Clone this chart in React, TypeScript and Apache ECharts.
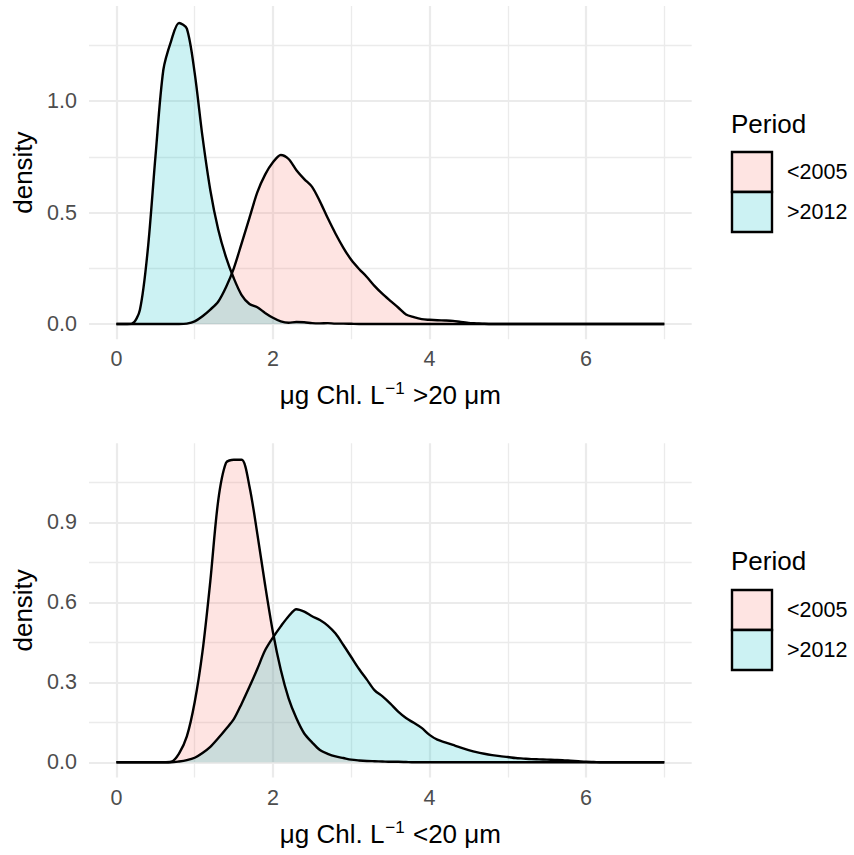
import { useEffect, useRef } from "react";
import * as echarts from "echarts";

// x grid (µg Chl. L-1)
const xs = [
  0.0, 0.1, 0.2, 0.3, 0.4, 0.5, 0.6, 0.7, 0.8, 0.9,
  1.0, 1.1, 1.2, 1.3, 1.4, 1.5, 1.6, 1.7, 1.8, 1.9,
  2.0, 2.1, 2.2, 2.3, 2.4, 2.5, 2.6, 2.7, 2.8, 2.9,
  3.0, 3.1, 3.2, 3.3, 3.4, 3.5, 3.6, 3.7, 3.8, 3.9,
  4.0, 4.1, 4.2, 4.3, 4.4, 4.5, 4.6, 4.7, 4.8, 4.9,
  5.0, 5.1, 5.2, 5.3, 5.4, 5.5, 5.6, 5.7, 5.8, 5.9,
  6.0, 6.1, 6.2, 6.6, 7.0,
];

// >20 µm panel
const largeEarly = [
  0, 0, 0, 0, 0, 0, 0, 0, 0, 0.002,
  0.012, 0.035, 0.065, 0.1, 0.165, 0.25, 0.362, 0.476, 0.59, 0.67,
  0.725, 0.758, 0.74, 0.69, 0.65, 0.615, 0.55, 0.475, 0.405, 0.342,
  0.288, 0.247, 0.211, 0.17, 0.135, 0.104, 0.074, 0.043, 0.031, 0.022,
  0.019, 0.017, 0.016, 0.014, 0.009, 0.005, 0.003, 0.001, 0, 0,
  0, 0, 0, 0, 0, 0, 0, 0, 0, 0,
  0, 0, 0, 0, 0,
];
const largeLate = [
  0, 0, 0.002, 0.063, 0.33, 0.755, 1.14, 1.27, 1.35, 1.325,
  1.126, 0.84, 0.6, 0.425, 0.3, 0.205, 0.13, 0.09, 0.075, 0.05,
  0.028, 0.012, 0.006, 0.009, 0.008, 0.004, 0.003, 0.004, 0.002, 0.002,
  0.001, 0, 0, 0, 0, 0, 0, 0, 0, 0,
  0, 0, 0, 0, 0, 0, 0, 0, 0, 0,
  0, 0, 0, 0, 0, 0, 0, 0, 0, 0,
  0, 0, 0, 0, 0,
];

// <20 µm panel
const smallEarly = [
  0, 0, 0, 0, 0, 0, 0, 0.002, 0.033, 0.097,
  0.225, 0.415, 0.68, 0.98, 1.123, 1.135, 1.135, 1.035, 0.858, 0.665,
  0.488, 0.347, 0.24, 0.165, 0.108, 0.075, 0.046, 0.032, 0.022, 0.016,
  0.01, 0.007, 0.005, 0.004, 0.003, 0.002, 0.002, 0.001, 0, 0,
  0, 0, 0, 0, 0, 0, 0, 0, 0, 0,
  0, 0, 0, 0, 0, 0, 0, 0, 0, 0,
  0, 0, 0, 0, 0,
];
const smallLate = [
  0, 0, 0, 0, 0, 0, 0, 0, 0.003, 0.008,
  0.017, 0.035, 0.058, 0.09, 0.125, 0.162, 0.22, 0.283, 0.35, 0.42,
  0.468, 0.51, 0.548, 0.574, 0.565, 0.548, 0.534, 0.513, 0.483, 0.44,
  0.395, 0.35, 0.31, 0.27, 0.247, 0.22, 0.19, 0.166, 0.148, 0.129,
  0.103, 0.085, 0.075, 0.065, 0.055, 0.046, 0.038, 0.032, 0.027, 0.023,
  0.02, 0.016, 0.014, 0.012, 0.011, 0.01, 0.009, 0.008, 0.006, 0.004,
  0.002, 0.001, 0, 0, 0,
];

const periods = ["<2005", ">2012"];
const xMajorTicks = [0, 2, 4, 6];
const xMinorTicks = [1, 3, 5, 7];
const topYMajor = [0, 0.5, 1.0];
const topYMinor = [0.25, 0.75, 1.25];
const bottomYMajor = [0, 0.3, 0.6, 0.9];
const bottomYMinor = [0.15, 0.45, 0.75, 1.05];

const FONT = "'Liberation Sans', Arial, Helvetica, sans-serif";
const GRID_COLOR = "#EBEBEB";
const FILLS = ["#F8766D", "#00BFC4"];
const KEY_FILLS = ["#FEE4E2", "#CCF2F3"];

function pairs(vals: number[]) {
  return xs.map((x, i) => [x, vals[i]]);
}

function xAxes(gridIndex: number, title: string) {
  const major = {
    gridIndex,
    type: "value",
    min: -0.35,
    max: 7.35,
    position: "bottom",
    axisLine: { show: false },
    axisTick: { show: false, customValues: xMajorTicks },
    axisLabel: {
      customValues: xMajorTicks,
      color: "#4D4D4D",
      fontSize: 21.5,
      fontFamily: FONT,
      margin: 9,
      formatter: (v: number) => String(v),
    },
    splitLine: { show: true, lineStyle: { color: GRID_COLOR, width: 2.2 } },
    name: `{a|μg Chl. L}{s|−1}{a| ${title} μm}`,
    nameLocation: "middle",
    nameGap: 41,
    nameTextStyle: {
      fontFamily: FONT,
      color: "#000",
      rich: {
        a: { fontSize: 26, fontFamily: FONT, color: "#000", lineHeight: 30 },
        s: { fontSize: 17, fontFamily: FONT, color: "#000", verticalAlign: "top", lineHeight: 17, padding: [0, 1, 0, 1] },
      },
    },
  };
  const minor = {
    gridIndex,
    type: "value",
    min: -0.35,
    max: 7.35,
    position: "top",
    axisLine: { show: false },
    axisTick: { show: false, customValues: xMinorTicks },
    axisLabel: { show: false },
    splitLine: { show: true, lineStyle: { color: GRID_COLOR, width: 1.3 } },
  };
  return [major, minor];
}

function yAxes(gridIndex: number, min: number, max: number, majorT: number[], minorT: number[]) {
  const major = {
    gridIndex,
    type: "value",
    min,
    max,
    position: "left",
    axisLine: { show: false },
    axisTick: { show: false, customValues: majorT },
    axisLabel: {
      customValues: majorT,
      color: "#4D4D4D",
      fontSize: 21.5,
      fontFamily: FONT,
      margin: 12,
      formatter: (v: number) => v.toFixed(1),
    },
    splitLine: { show: true, lineStyle: { color: GRID_COLOR, width: 2.2 } },
    name: "density",
    nameLocation: "middle",
    nameGap: 50,
    nameTextStyle: { fontSize: 26, fontFamily: FONT, color: "#000" },
  };
  const minor = {
    gridIndex,
    type: "value",
    min,
    max,
    position: "right",
    axisLine: { show: false },
    axisTick: { show: false, customValues: minorT },
    axisLabel: { show: false },
    splitLine: { show: true, lineStyle: { color: GRID_COLOR, width: 1.3 } },
  };
  return [major, minor];
}

function densitySeries(name: string, vals: number[], axisIndex: number, colorIdx: number) {
  return {
    type: "line",
    name,
    xAxisIndex: axisIndex,
    yAxisIndex: axisIndex,
    data: pairs(vals),
    smooth: 0.3,
    symbol: "none",
    silent: true,
    lineStyle: { color: "#000", width: 2.4 },
    itemStyle: { color: FILLS[colorIdx] },
    areaStyle: { color: FILLS[colorIdx], opacity: 0.2 },
  };
}

function legendGraphics(titleY: number, boxTop: number) {
  const els: any[] = [
    {
      type: "text",
      left: 731,
      top: titleY,
      style: { text: "Period", fontSize: 26, fontFamily: FONT, fill: "#000" },
    },
  ];
  periods.forEach((p, i) => {
    els.push({
      type: "rect",
      shape: { x: 732, y: boxTop + i * 40, width: 40, height: 40 },
      style: { fill: KEY_FILLS[i], stroke: "#000", lineWidth: 2.4 },
    });
    els.push({
      type: "text",
      x: 787,
      y: boxTop + i * 40 + 20,
      style: {
        text: p,
        fontSize: 21.5,
        fontFamily: FONT,
        fill: "#000",
        verticalAlign: "middle",
        align: "left",
      },
    });
  });
  return els;
}

export default function App() {
  const ref = useRef<HTMLDivElement>(null);
  useEffect(() => {
    if (!ref.current) return;
    const chart = echarts.init(ref.current, undefined, { renderer: "svg" });
    const option: any = {
      animation: false,
      backgroundColor: "#fff",
      textStyle: { fontFamily: FONT },
      grid: [
        { left: 89, top: 6, width: 602.7, height: 333.2 },
        { left: 89, top: 443.2, width: 602.7, height: 334.3 },
      ],
      xAxis: [...xAxes(0, ">20"), ...xAxes(1, "<20")],
      yAxis: [
        ...yAxes(0, -0.068, 1.426, topYMajor, topYMinor),
        ...yAxes(1, -0.057, 1.197, bottomYMajor, bottomYMinor),
      ],
      series: [
        densitySeries(periods[0], largeEarly, 0, 0),
        densitySeries(periods[1], largeLate, 0, 1),
        densitySeries(periods[0], smallEarly, 2, 0),
        densitySeries(periods[1], smallLate, 2, 1),
      ],
      graphic: [...legendGraphics(111, 152), ...legendGraphics(548, 590)],
    };
    chart.setOption(option);
    return () => chart.dispose();
  }, []);
  return (
    <div
      ref={ref}
      style={{ position: "absolute", left: 0, top: 0, width: 854, height: 855 }}
    />
  );
}
